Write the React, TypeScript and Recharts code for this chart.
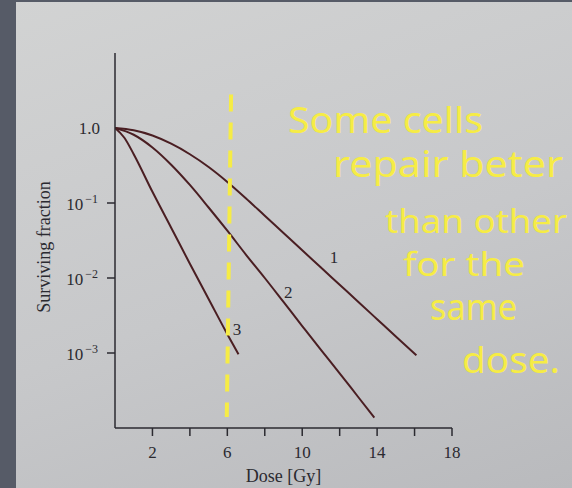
import React from "react";
import {
  LineChart,
  Line,
  XAxis,
  YAxis,
  ReferenceLine,
  ReferenceDot,
} from "recharts";

// dose [Gy] and surviving fraction
const doses1 = [0, 1, 2, 3, 4, 5, 6, 7, 8, 9, 10, 11, 12, 13, 14, 15, 16.1];
const surv1 = [1, 0.933, 0.794, 0.617, 0.447, 0.302, 0.191, 0.115, 0.0676, 0.0398, 0.0234, 0.0138, 0.00813, 0.00479, 0.00282, 0.00166, 0.000933];

const doses2 = [0, 1, 2, 3, 4, 5, 6, 7, 8, 9, 10, 11, 12, 13, 13.85];
const surv2 = [1, 0.813, 0.55, 0.324, 0.174, 0.0871, 0.0427, 0.0204, 0.01, 0.00479, 0.00229, 0.0011, 0.000537, 0.000257, 0.000138];

const doses3 = [0, 0.5, 1, 2, 3, 4, 5, 6, 6.6];
const surv3 = [1, 0.741, 0.447, 0.141, 0.0468, 0.0155, 0.00525, 0.00178, 0.00096];

const curveNames = ["1", "2", "3"];
const curveLabelDose = [11.7, 9.25, 6.52];
const curveLabelSurv = [0.019, 0.0066, 0.0021];

const xTicks = [2, 4, 6, 8, 10, 12, 14, 16, 18];
const xLabelled = [2, 6, 10, 14, 18];
const yTicks = [1, 0.1, 0.01, 0.001];

// handwritten note
const noteLines = ["Some cells", "repair beter", "than other", "for the", "same", "dose."];

const toRows = (d: number[], s: number[]) => d.map((dose, i) => ({ dose, s: s[i] }));
const series = [toRows(doses1, surv1), toRows(doses2, surv2), toRows(doses3, surv3)];

const INK = "#2b2a30";
const CURVE = "#4a1e22";
const YELLOW = "#f6ec45";
const SERIF = "'Liberation Serif', 'DejaVu Serif', serif";

const XTick = ({ x, y, payload }: any) => {
  if (!xLabelled.includes(payload.value)) return <g />;
  return (
    <text x={x} y={y + 22} textAnchor="middle" fill={INK} fontSize={17} fontFamily={SERIF}>
      {payload.value}
    </text>
  );
};

const YTick = ({ x, y, payload }: any) => {
  const v = payload.value;
  if (v === 1) {
    return (
      <text x={x - 1} y={y + 6} textAnchor="end" fill={INK} fontSize={17} fontFamily={SERIF}>
        1.0
      </text>
    );
  }
  const exp = Math.round(Math.log10(v));
  return (
    <g>
      <line x1={x + 6} x2={x + 14} y1={y} y2={y} stroke={INK} strokeWidth={1.5} />
      <text x={x - 3} y={y + 7} textAnchor="end" fill={INK} fontSize={17} fontFamily={SERIF}>
        <tspan>10</tspan>
        <tspan dx={2} dy={-7} fontSize={12}>
          {"\u2212" + Math.abs(exp)}
        </tspan>
      </text>
    </g>
  );
};

const noteX = [288, 333, 385, 403, 430, 462];
const noteY = [133, 177, 233, 276, 320, 373];
const noteW = [195, 230, 182, 122, 87, 98];
const noteSize = [36, 36, 32, 32, 36, 36];

export default function App() {
  return (
    <div
      style={{
        position: "fixed",
        left: 0,
        top: 0,
        width: 572,
        height: 488,
        overflow: "hidden",
        background: "linear-gradient(160deg, #d2d3d3 0%, #c7c8ca 55%, #b9babd 100%)",
      }}
    >
      <div style={{ position: "absolute", left: 0, top: 0, width: 16, height: 488, background: "#565b67" }} />
      <div style={{ position: "absolute", left: 0, top: 0, width: 572, height: 2, background: "#565b67" }} />
      <div style={{ position: "absolute", left: 0, top: 0 }}>
        <LineChart width={572} height={488} margin={{ top: 53, right: 120, bottom: 30, left: 35 }}>
          <XAxis
            dataKey="dose"
            type="number"
            domain={[0, 18]}
            ticks={xTicks}
            allowDataOverflow
            height={30}
            tickSize={8}
            tickMargin={0}
            axisLine={{ stroke: INK, strokeWidth: 1.5 }}
            tickLine={{ stroke: INK, strokeWidth: 1.5 }}
            tick={<XTick />}
            label={({ viewBox }: any) => (
              <text
                x={viewBox.x + viewBox.width / 2}
                y={482}
                textAnchor="middle"
                fill={INK}
                fontSize={18}
                fontFamily={SERIF}
              >
                Dose [Gy]
              </text>
            )}
          />
          <YAxis
            dataKey="s"
            scale="log"
            domain={[0.0001, 10]}
            ticks={yTicks}
            allowDataOverflow
            width={80}
            tickSize={8}
            tickMargin={6}
            tickLine={false}
            axisLine={{ stroke: INK, strokeWidth: 1.5 }}
            tick={<YTick />}
            label={() => {
              const cx = 50;
              const cy = 247;
              return (
                <text
                  x={cx}
                  y={cy}
                  transform={`rotate(-90 ${cx} ${cy})`}
                  textAnchor="middle"
                  fill={INK}
                  fontSize={18}
                  fontFamily={SERIF}
                >
                  Surviving fraction
                </text>
              );
            }}
          />
          {series.map((rows, i) => (
            <Line
              key={i}
              data={rows}
              dataKey="s"
              type="monotone"
              stroke={CURVE}
              strokeWidth={2}
              dot={false}
              isAnimationActive={false}
            />
          ))}
          {curveNames.map((name, i) => (
            <ReferenceDot
              key={name}
              x={curveLabelDose[i]}
              y={curveLabelSurv[i]}
              r={0}
              fill="none"
              stroke="none"
              ifOverflow="visible"
              label={{ value: name, position: "center", fill: INK, fontSize: 17, fontFamily: SERIF }}
            />
          ))}
          <ReferenceLine
            segment={[
              { x: 6.2, y: 2.8 },
              { x: 5.97, y: 0.00014 },
            ]}
            stroke={YELLOW}
            strokeWidth={4}
            strokeDasharray="17 11"
            ifOverflow="visible"
          />
        </LineChart>
      </div>
      <svg
        width={572}
        height={488}
        style={{ position: "absolute", left: 0, top: 0, pointerEvents: "none" }}
      >
        {noteLines.map((t, i) => (
          <text
            key={t}
            x={noteX[i]}
            y={noteY[i]}
            textLength={noteW[i]}
            lengthAdjust="spacingAndGlyphs"
            fill={YELLOW}
            fontSize={noteSize[i]}
            fontFamily="'Noto Sans', sans-serif"
          >
            {t}
          </text>
        ))}
      </svg>
    </div>
  );
}
